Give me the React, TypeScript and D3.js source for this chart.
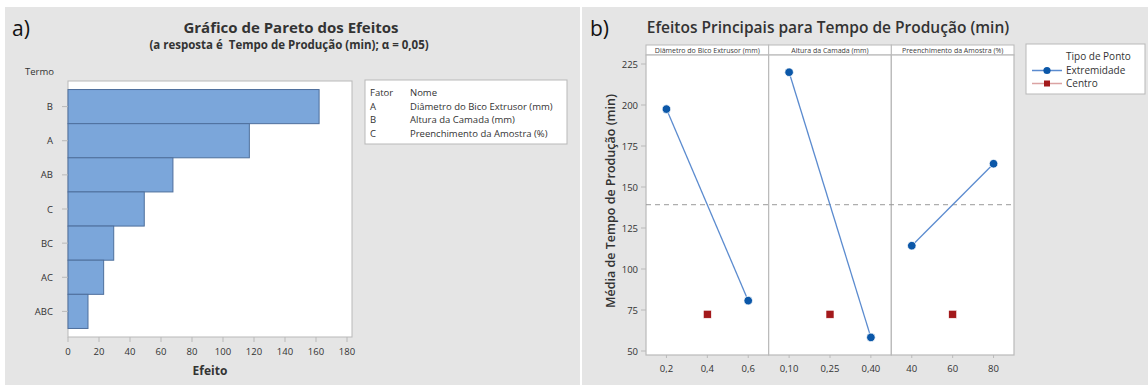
import * as d3 from "d3";

// Pareto chart (a)
const terms = ["B", "A", "AB", "C", "BC", "AC", "ABC"];
const effects = [162, 117, 67.7, 49.2, 29.5, 23, 12.9];
const effectTicks = [0, 20, 40, 60, 80, 100, 120, 140, 160, 180];
const factorCodes = ["A", "B", "C"];
const factorNames = [
  "Diâmetro do Bico Extrusor (mm)",
  "Altura da Camada (mm)",
  "Preenchimento da Amostra (%)",
];

// Main effects plot (b)
const levelLabels = [
  ["0,2", "0,4", "0,6"],
  ["0,10", "0,25", "0,40"],
  ["40", "60", "80"],
];
const lowMeans = [197.5, 220, 114.2];
const highMeans = [80.7, 58.3, 164.2];
const centerMeans = [72.4, 72.4, 72.4];
const overallMean = 139.2;
const meanTicks = [50, 75, 100, 125, 150, 175, 200, 225];

const W = 1148;
const H = 385;
const FONT = "'Open Sans', 'DejaVu Sans', sans-serif";
const BG = "#e5e5e5";
const BORDER = "#b9b9b9";
const TXT = "#333";

export default function App() {
  // ---- left panel scales
  const plotA = { left: 68, right: 352, top: 81, bottom: 337 };
  const x = d3.scaleLinear().domain([0, 180]).range([68, 347]);
  const y = d3
    .scaleBand<string>()
    .domain(terms)
    .range([plotA.top, plotA.bottom])
    .paddingInner(0)
    .paddingOuter(0.25);

  // ---- right panel scales
  const plotB = { left: 646, right: 1014, top: 55, bottom: 355 };
  const panelW = (plotB.right - plotB.left) / 3;
  const ym = d3.scaleLinear().domain([50, 225]).range([351, 64]);
  const panels = factorNames.map((name, i) => {
    const x0 = plotB.left + i * panelW;
    const sx = d3
      .scalePoint<string>()
      .domain(levelLabels[i])
      .range([x0, x0 + panelW])
      .padding(0.5);
    return { name, x0, sx, i };
  });

  return (
    <svg
      width={W}
      height={H}
      viewBox={`0 0 ${W} ${H}`}
      style={{ position: "absolute", left: 0, top: 0, fontFamily: FONT }}
    >
      <rect x={0} y={0} width={W} height={H} fill="#fff" />
      <rect x={5} y={7} width={575} height={H - 7} fill={BG} />
      <rect x={582} y={7} width={W - 582} height={H - 7} fill={BG} />

      {/* ================= a) Pareto ================= */}
      <text x={12} y={36} fontSize={21} fill="#111">a)</text>
      <text x={291} y={33} fontSize={15} fontWeight={700} textAnchor="middle" fill={TXT}>
        Gráfico de Pareto dos Efeitos
      </text>
      <text x={289} y={49} fontSize={11.5} fontWeight={700} textAnchor="middle" fill={TXT} style={{ whiteSpace: "pre" }}>
        {"(a resposta é  Tempo de Produção (min); α = 0,05)"}
      </text>
      <text x={25} y={75} fontSize={9.5} fill={TXT}>Termo</text>

      <rect
        x={plotA.left}
        y={plotA.top}
        width={plotA.right - plotA.left}
        height={plotA.bottom - plotA.top}
        fill="#fff"
        stroke={BORDER}
      />
      {terms.map((t, i) => (
        <rect
          key={t}
          x={x(0)}
          y={y(t)}
          width={x(effects[i]) - x(0)}
          height={y.bandwidth()}
          fill="#7ba6da"
          stroke="#4e6f9c"
          strokeWidth={1}
        />
      ))}
      {terms.map((t) => {
        const cy = (y(t) ?? 0) + y.bandwidth() / 2;
        return (
          <g key={t}>
            <line x1={62} x2={plotA.left} y1={cy} y2={cy} stroke={BORDER} />
            <text x={53} y={cy + 3.5} fontSize={9.5} textAnchor="end" fill={TXT}>
              {t}
            </text>
          </g>
        );
      })}
      {effectTicks.map((v) => (
        <g key={v}>
          <line x1={x(v)} x2={x(v)} y1={plotA.bottom} y2={plotA.bottom + 5} stroke={BORDER} />
          <text x={x(v)} y={355} fontSize={9.5} textAnchor="middle" fill={TXT}>
            {v}
          </text>
        </g>
      ))}
      <text x={210} y={375} fontSize={12} fontWeight={700} textAnchor="middle" fill={TXT}>
        Efeito
      </text>

      <rect x={365} y={80} width={202} height={64} fill="#fff" stroke={BORDER} />
      <text x={370} y={95.5} fontSize={9.5} fill={TXT}>Fator</text>
      <text x={410} y={95.5} fontSize={9.5} fill={TXT}>Nome</text>
      {factorCodes.map((c, i) => (
        <g key={c}>
          <text x={370} y={109.5 + i * 13.5} fontSize={9.5} fill={TXT}>{c}</text>
          <text x={410} y={109.5 + i * 13.5} fontSize={9.5} fill={TXT}>{factorNames[i]}</text>
        </g>
      ))}

      {/* ================= b) Main effects ================= */}
      <text x={590} y={36} fontSize={21} fill="#111">b)</text>
      <text x={828} y={33} fontSize={15.5} fontWeight={600} textAnchor="middle" fill={TXT}>
        Efeitos Principais para Tempo de Produção (min)
      </text>
      <text
        transform={`translate(615, 201) rotate(-90)`}
        fontSize={12.5}
        fontWeight={600}
        textAnchor="middle"
        fill={TXT}
      >
        Média de Tempo de Produção (min)
      </text>

      {panels.map((p) => (
        <g key={p.name}>
          <rect x={p.x0} y={45} width={panelW} height={10} fill="#fff" stroke={BORDER} />
          <text x={p.x0 + panelW / 2} y={53} fontSize={7} textAnchor="middle" fill="#3a3a3a">
            {p.name}
          </text>
          <rect
            x={p.x0}
            y={plotB.top}
            width={panelW}
            height={plotB.bottom - plotB.top}
            fill="#fff"
            stroke={BORDER}
            strokeWidth={1.2}
          />
        </g>
      ))}

      <line
        x1={plotB.left}
        x2={plotB.right}
        y1={ym(overallMean)}
        y2={ym(overallMean)}
        stroke="#9a9a9a"
        strokeDasharray="5,4"
      />

      {meanTicks.map((v) => (
        <g key={v}>
          <line x1={641} x2={plotB.left} y1={ym(v)} y2={ym(v)} stroke={BORDER} />
          <text x={638} y={ym(v) + 3.5} fontSize={9.5} textAnchor="end" fill={TXT}>
            {v}
          </text>
        </g>
      ))}

      {panels.map((p) => {
        const [lo, mid, hi] = levelLabels[p.i];
        const line = d3
          .line<[string, number]>()
          .x((d) => p.sx(d[0]) ?? 0)
          .y((d) => ym(d[1]));
        const pts: [string, number][] = [
          [lo, lowMeans[p.i]],
          [hi, highMeans[p.i]],
        ];
        return (
          <g key={"m" + p.i}>
            {levelLabels[p.i].map((l) => (
              <g key={l}>
                <line x1={p.sx(l)} x2={p.sx(l)} y1={plotB.bottom} y2={plotB.bottom + 3} stroke={BORDER} />
                <text x={p.sx(l)} y={372} fontSize={9.5} textAnchor="middle" fill={TXT}>
                  {l}
                </text>
              </g>
            ))}
            <path d={line(pts) ?? ""} fill="none" stroke="#5b8bcf" strokeWidth={1.3} />
            {pts.map((d) => (
              <circle
                key={d[0]}
                cx={p.sx(d[0])}
                cy={ym(d[1])}
                r={4.3}
                fill="#0b57a8"
                stroke="#fff"
                strokeWidth={0.8}
              />
            ))}
            <rect
              x={(p.sx(mid) ?? 0) - 4}
              y={ym(centerMeans[p.i]) - 4}
              width={8}
              height={8}
              fill="#a3191b"
              stroke="#fff"
              strokeWidth={0.6}
            />
          </g>
        );
      })}

      <rect x={1026} y={44} width={119} height={50} fill="#fff" stroke={BORDER} />
      <text x={1066} y={60} fontSize={10} fill={TXT}>Tipo de Ponto</text>
      <line x1={1032} x2={1062} y1={70.5} y2={70.5} stroke="#5b8bcf" strokeWidth={1.5} />
      <circle cx={1047} cy={70.5} r={3.6} fill="#0b57a8" />
      <text x={1066} y={74} fontSize={10} fill={TXT}>Extremidade</text>
      <line x1={1032} x2={1062} y1={83.5} y2={83.5} stroke="#dba3a3" strokeWidth={1.5} />
      <rect x={1044} y={80.5} width={6} height={6} fill="#a3191b" />
      <text x={1066} y={87} fontSize={10} fill={TXT}>Centro</text>
    </svg>
  );
}
